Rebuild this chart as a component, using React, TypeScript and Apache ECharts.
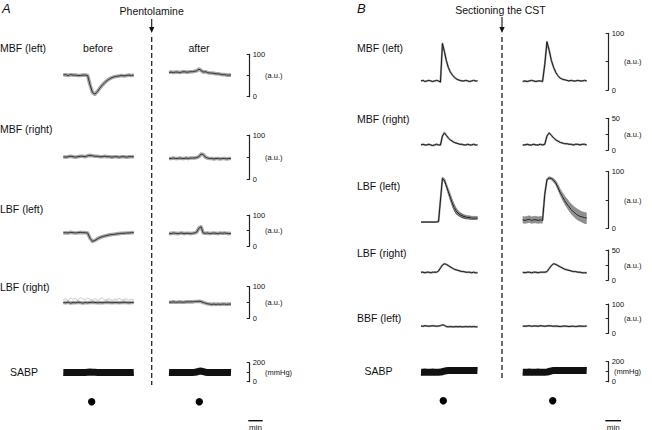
import React, { useEffect, useRef } from "react";
import * as echarts from "echarts";

const FONT = "'Liberation Sans', Arial, Helvetica, sans-serif";

// ---------- Panel A : Phentolamine (30 samples per trace) ----------
const A_MBF_LEFT_BEFORE = [51,52,50,52,51,51,50,50,51,51,50,28,10,6,12,20,27,33,38,42,45,47,48,49,50,49,50,51,50,51];
const A_MBF_LEFT_AFTER = [57,58,57,58,58,57,58,59,58,58,59,59,60,61,65,62,58,59,57,56,56,55,54,54,53,52,52,51,51,51];
const A_MBF_RIGHT_BEFORE = [51,50,51,52,51,50,51,52,52,51,53,54,53,52,52,51,51,52,51,51,50,51,51,50,51,51,50,51,51,51];
const A_MBF_RIGHT_AFTER = [47,47,48,47,47,48,47,47,48,47,48,48,48,49,51,57,56,50,48,47,47,46,47,47,46,47,47,46,47,47];
const A_LBF_LEFT_BEFORE = [42,43,42,44,43,42,43,44,43,43,42,25,15,18,23,27,30,32,34,36,37,38,39,40,41,41,42,42,43,43];
const A_LBF_LEFT_AFTER = [41,40,42,41,40,41,42,40,41,41,40,41,42,45,58,62,42,41,42,40,41,42,41,40,42,41,42,41,40,41];
const A_LBF_RIGHT_BEFORE = [50,49,51,48,50,49,51,50,48,50,49,50,51,50,49,50,49,50,51,50,49,50,50,49,50,51,50,49,50,50];
const A_LBF_RIGHT_BEFORE_NOISE = [58,62,55,65,60,63,57,66,61,59,64,60,58,63,57,61,65,58,60,62,56,61,59,63,58,60,62,57,61,59];
const A_LBF_RIGHT_AFTER = [51,51,52,51,51,52,51,51,52,52,52,52,53,53,54,53,50,48,46,45,44,45,44,45,44,45,45,44,45,45];
const A_SABP_BEFORE = [97,96,98,97,96,97,98,97,96,98,100,101,100,99,98,97,96,97,98,97,96,97,98,97,96,97,98,97,96,97];
const A_SABP_AFTER = [98,97,98,97,98,97,98,97,98,97,98,98,99,102,110,112,106,100,98,97,98,97,98,97,98,97,98,97,98,97];

// ---------- Panel B : Sectioning the CST ----------
const B_MBF_LEFT_BEFORE = [16,17,15,16,17,16,15,16,17,16,14,82,68,52,40,32,27,23,20,18,17,16,16,17,16,15,16,17,16,16];
const B_MBF_LEFT_AFTER = [15,16,15,16,17,16,15,16,16,15,45,85,70,52,40,31,25,21,19,18,17,16,17,16,16,17,16,16,17,16];
const B_MBF_RIGHT_BEFORE = [8,9,8,8,9,8,7,8,9,8,8,22,27,23,19,16,14,12,11,10,9,9,8,8,9,8,8,9,8,8];
const B_MBF_RIGHT_AFTER = [8,8,9,8,8,9,8,8,9,8,9,22,27,23,19,16,14,12,11,10,10,9,9,8,9,9,8,9,9,8];
const B_LBF_LEFT_BEFORE = [11,11,11,11,11,11,11,11,11,12,50,88,85,75,65,55,45,37,31,27,24,22,21,20,19,19,18,18,18,18];
const B_LBF_LEFT_BEFORE_HIGH = [12,12,12,12,12,12,12,12,12,13,52,90,88,79,70,61,51,43,36,31,28,26,24,23,22,22,21,21,21,21];
const B_LBF_LEFT_BEFORE_LOW = [10,10,10,10,10,10,10,10,10,11,48,85,81,70,59,48,38,30,25,22,20,18,17,16,16,15,15,15,15,15];
const B_LBF_LEFT_AFTER = [15,14,15,16,14,15,15,14,15,14,60,86,89,88,85,80,72,63,56,49,43,38,33,29,26,23,21,20,19,18];
const B_LBF_LEFT_AFTER_HIGH = [21,20,21,22,20,21,21,20,21,20,62,88,91,90,88,84,77,69,63,57,52,47,43,39,36,33,31,29,28,27];
const B_LBF_LEFT_AFTER_LOW = [9,8,9,10,8,9,9,8,9,8,55,83,86,85,81,75,66,57,49,42,36,30,25,21,17,14,12,10,8,7];
const B_LBF_RIGHT_BEFORE = [13,13,12,13,13,12,13,13,13,15,20,25,27,26,24,22,20,18,17,16,15,14,14,13,13,13,12,13,12,12];
const B_LBF_RIGHT_AFTER = [13,12,13,13,12,13,13,12,13,13,13,14,19,24,27,26,24,22,20,18,17,16,15,14,14,13,13,12,12,12];
const B_BBF_LEFT_BEFORE = [25,24,26,25,24,25,26,25,24,25,26,29,27,23,22,23,22,22,23,22,23,22,22,23,22,23,22,23,22,22];
const B_BBF_LEFT_AFTER = [25,24,25,26,24,25,25,24,26,25,24,25,26,25,24,25,24,23,24,25,24,23,24,24,23,24,25,24,24,25];
const B_SABP_BEFORE = [95,94,96,95,94,95,96,95,94,95,96,100,106,110,112,111,112,113,112,111,112,112,111,112,113,112,111,112,112,111];
const B_SABP_AFTER = [95,94,95,96,95,94,95,96,95,94,95,96,102,108,112,111,112,113,112,112,111,112,113,112,111,112,112,113,112,111];

// ---------- rows ----------
const ROWS_A = [
  { label: "MBF (left)", unit: "(a.u.)", max: 100, interval: 50, before: A_MBF_LEFT_BEFORE, after: A_MBF_LEFT_AFTER, kind: "flow" },
  { label: "MBF (right)", unit: "(a.u.)", max: 100, interval: 50, before: A_MBF_RIGHT_BEFORE, after: A_MBF_RIGHT_AFTER, kind: "flow" },
  { label: "LBF (left)", unit: "(a.u.)", max: 100, interval: 50, before: A_LBF_LEFT_BEFORE, after: A_LBF_LEFT_AFTER, kind: "flow" },
  { label: "LBF (right)", unit: "(a.u.)", max: 100, interval: 50, before: A_LBF_RIGHT_BEFORE, after: A_LBF_RIGHT_AFTER, kind: "flow", beforeNoise: A_LBF_RIGHT_BEFORE_NOISE },
  { label: "SABP", unit: "(mmHg)", max: 200, interval: 100, before: A_SABP_BEFORE, after: A_SABP_AFTER, kind: "bp" },
];
const ROWS_B = [
  { label: "MBF (left)", unit: "(a.u.)", max: 100, interval: 50, before: B_MBF_LEFT_BEFORE, after: B_MBF_LEFT_AFTER, kind: "flowB" },
  { label: "MBF (right)", unit: "(a.u.)", max: 50, interval: 25, before: B_MBF_RIGHT_BEFORE, after: B_MBF_RIGHT_AFTER, kind: "flowB" },
  { label: "LBF (left)", unit: "(a.u.)", max: 100, interval: 50, before: B_LBF_LEFT_BEFORE, after: B_LBF_LEFT_AFTER, kind: "flowB",
    beforeHigh: B_LBF_LEFT_BEFORE_HIGH, beforeLow: B_LBF_LEFT_BEFORE_LOW, afterHigh: B_LBF_LEFT_AFTER_HIGH, afterLow: B_LBF_LEFT_AFTER_LOW },
  { label: "LBF (right)", unit: "(a.u.)", max: 50, interval: 25, before: B_LBF_RIGHT_BEFORE, after: B_LBF_RIGHT_AFTER, kind: "flowB" },
  { label: "BBF (left)", unit: "(a.u.)", max: 100, interval: 50, before: B_BBF_LEFT_BEFORE, after: B_BBF_LEFT_AFTER, kind: "flowB" },
  { label: "SABP", unit: "(mmHg)", max: 200, interval: 100, before: B_SABP_BEFORE, after: B_SABP_AFTER, kind: "bp" },
];

// ---------- layout (pixels) ----------
const LAYOUT_A = {
  labelX: 0, sabpLabelX: 10,
  beforeLeft: 63.3, beforeWidth: 70.5, afterLeft: 169, afterWidth: 62, barX: 249.7,
  rows: [
    { labelY: 47.7, top: 54.3, bottom: 96.7, unitX: 265 },
    { labelY: 129.3, top: 135, bottom: 179.3, unitX: 265 },
    { labelY: 209.3, top: 215, bottom: 246, unitX: 265 },
    { labelY: 286.7, top: 286.7, bottom: 318.3, unitX: 265 },
    { labelY: 371.7, top: 362.7, bottom: 381.7, unitX: 265 },
  ],
};
const LAYOUT_B = {
  labelX: 357, sabpLabelX: 364.5,
  beforeLeft: 421, beforeWidth: 56.5, afterLeft: 522.7, afterWidth: 64, barX: 608.7,
  rows: [
    { labelY: 47.7, top: 33.3, bottom: 90, unitX: 624 },
    { labelY: 119.3, top: 118.3, bottom: 150, unitX: 624 },
    { labelY: 186, top: 171.7, bottom: 228.3, unitX: 624 },
    { labelY: 253.3, top: 250, bottom: 280, unitX: 624 },
    { labelY: 318.3, top: 304, bottom: 333.3, unitX: 624 },
    { labelY: 371, top: 361.7, bottom: 381.7, unitX: 614 },
  ],
};

function buildOption() {
  const grids: any[] = [];
  const xAxes: any[] = [];
  const yAxes: any[] = [];
  const series: any[] = [];
  const elements: any[] = [];

  const text = (t: string, x: number, y: number, size: number, align = "left", italic = false) => ({
    type: "text",
    x,
    y,
    silent: true,
    style: {
      text: t,
      fill: "#111",
      font: `${italic ? "italic " : ""}${size}px ${FONT}`,
      textAlign: align,
      textVerticalAlign: "middle",
      align,
      verticalAlign: "middle",
    },
  });

  const addGrid = (left: number, width: number, top: number, bottom: number, row: any, n: number, offset?: number) => {
    const idx = grids.length;
    grids.push({ left, top, width, height: bottom - top, containLabel: false });
    xAxes.push({
      type: "category",
      gridIndex: idx,
      boundaryGap: false,
      data: Array.from({ length: n }, (_, i) => String(i)),
      show: false,
    });
    if (offset !== undefined) {
      yAxes.push({
        type: "value",
        gridIndex: idx,
        min: 0,
        max: row.max,
        interval: row.interval,
        position: "right",
        offset,
        axisLine: { show: true, lineStyle: { color: "#222", width: 1.2 } },
        axisTick: { show: true, inside: true, length: 3, lineStyle: { color: "#222", width: 1 } },
        axisLabel: {
          show: true,
          margin: 3,
          fontSize: 7.5,
          color: "#111",
          fontFamily: FONT,
          showMinLabel: true,
          showMaxLabel: true,
          formatter: (v: number) => (v === 0 || v === row.max ? String(v) : ""),
        },
        splitLine: { show: false },
      });
    } else {
      yAxes.push({ type: "value", gridIndex: idx, min: 0, max: row.max, interval: row.interval, show: false });
    }
    return idx;
  };

  const line = (idx: number, data: number[], color: string, width: number, z = 2) => {
    series.push({
      type: "line",
      xAxisIndex: idx,
      yAxisIndex: idx,
      data,
      symbol: "none",
      silent: true,
      clip: false,
      z,
      lineStyle: { color, width, join: "round" },
    });
  };

  const band = (idx: number, low: number[], high: number[], color: string) => {
    const stackId = "band" + idx;
    series.push({
      type: "line", xAxisIndex: idx, yAxisIndex: idx, data: low, stack: stackId, symbol: "none",
      silent: true, lineStyle: { width: 0, opacity: 0 }, areaStyle: { opacity: 0 }, z: 1,
    });
    series.push({
      type: "line", xAxisIndex: idx, yAxisIndex: idx, data: high.map((h, i) => h - low[i]), stack: stackId,
      symbol: "none", silent: true, lineStyle: { width: 0.8, color: "#8a8a8a" }, areaStyle: { color, opacity: 1 }, z: 1,
    });
  };

  const drawTrace = (idx: number, data: number[], kind: string) => {
    if (kind === "bp") {
      line(idx, data, "#111", 7);
    } else if (kind === "flow") {
      line(idx, data, "#a8a8a8", 3.6, 2);
      line(idx, data, "#333", 1, 3);
    } else {
      line(idx, data, "#a0a0a0", 2, 2);
      line(idx, data, "#1a1a1a", 1, 3);
    }
  };

  const panel = (rows: any[], L: any) => {
    rows.forEach((row, r) => {
      const lr = L.rows[r];
      const bIdx = addGrid(L.beforeLeft, L.beforeWidth, lr.top, lr.bottom, row, row.before.length);
      if (row.beforeNoise) line(bIdx, row.beforeNoise, "#bdbdbd", 0.8, 1);
      if (row.beforeHigh && row.beforeLow) band(bIdx, row.beforeLow, row.beforeHigh, "#555");
      drawTrace(bIdx, row.before, row.kind);
      const aIdx = addGrid(L.afterLeft, L.afterWidth, lr.top, lr.bottom, row, row.after.length, L.barX - (L.afterLeft + L.afterWidth));
      if (row.afterHigh && row.afterLow) band(aIdx, row.afterLow, row.afterHigh, "#8f8f8f");
      drawTrace(aIdx, row.after, row.kind);
      elements.push(text(row.label, row.label === "SABP" ? L.sabpLabelX : L.labelX, lr.labelY, 10.5));
      elements.push(text(row.unit, lr.unitX, (lr.top + lr.bottom) / 2, 7.5));
    });
  };

  panel(ROWS_A, LAYOUT_A);
  panel(ROWS_B, LAYOUT_B);

  // Panel letters and headers
  elements.push(text("A", 2, 8, 13, "left", true));
  elements.push(text("B", 357, 8, 13, "left", true));
  elements.push(text("Phentolamine", 151.7, 11, 10.5, "center"));
  elements.push(text("Sectioning the CST", 500.5, 10, 10.5, "center"));
  elements.push(text("before", 98, 47.7, 10.5, "center"));
  elements.push(text("after", 199, 47.7, 10.5, "center"));

  // arrows + dashed dividers
  const arrow = (x: number, y1: number, y2: number) => {
    elements.push({ type: "line", silent: true, shape: { x1: x, y1, x2: x, y2: y2 - 3 }, style: { stroke: "#111", lineWidth: 1.1 } });
    elements.push({ type: "polygon", silent: true, shape: { points: [[x - 2.6, y2 - 6], [x + 2.6, y2 - 6], [x, y2]] }, style: { fill: "#111" } });
  };
  arrow(151.7, 19, 33);
  arrow(502, 17, 33);
  elements.push({ type: "line", silent: true, shape: { x1: 151.7, y1: 37, x2: 151.7, y2: 385 }, style: { stroke: "#222", lineWidth: 1.3, lineDash: [5, 3] } });
  elements.push({ type: "line", silent: true, shape: { x1: 502, y1: 37, x2: 502, y2: 381 }, style: { stroke: "#222", lineWidth: 1.3, lineDash: [5, 3] } });

  // stimulus dots
  [[91.7, 401.7], [199.3, 401.7], [443.3, 400.7], [552.7, 400.7]].forEach(([cx, cy]) => {
    elements.push({ type: "circle", silent: true, shape: { cx, cy, r: 3.7 }, style: { fill: "#000" } });
  });

  // time scale bars
  const minBar = (x1: number, x2: number) => {
    elements.push({ type: "line", silent: true, shape: { x1, y1: 420.7, x2, y2: 420.7 }, style: { stroke: "#111", lineWidth: 1.4 } });
    elements.push(text("min", (x1 + x2) / 2, 427, 8, "center"));
  };
  minBar(248.3, 262.7);
  minBar(605.3, 621);

  return {
    animation: false,
    backgroundColor: "#ffffff",
    grid: grids,
    xAxis: xAxes,
    yAxis: yAxes,
    series,
    graphic: { elements },
  };
}

export default function App() {
  const ref = useRef<HTMLDivElement>(null);
  useEffect(() => {
    if (!ref.current) return;
    const chart = echarts.init(ref.current, undefined, { renderer: "svg" });
    chart.setOption(buildOption() as any);
    return () => chart.dispose();
  }, []);
  return <div ref={ref} style={{ position: "absolute", left: 0, top: 0, width: 652, height: 430 }} />;
}
